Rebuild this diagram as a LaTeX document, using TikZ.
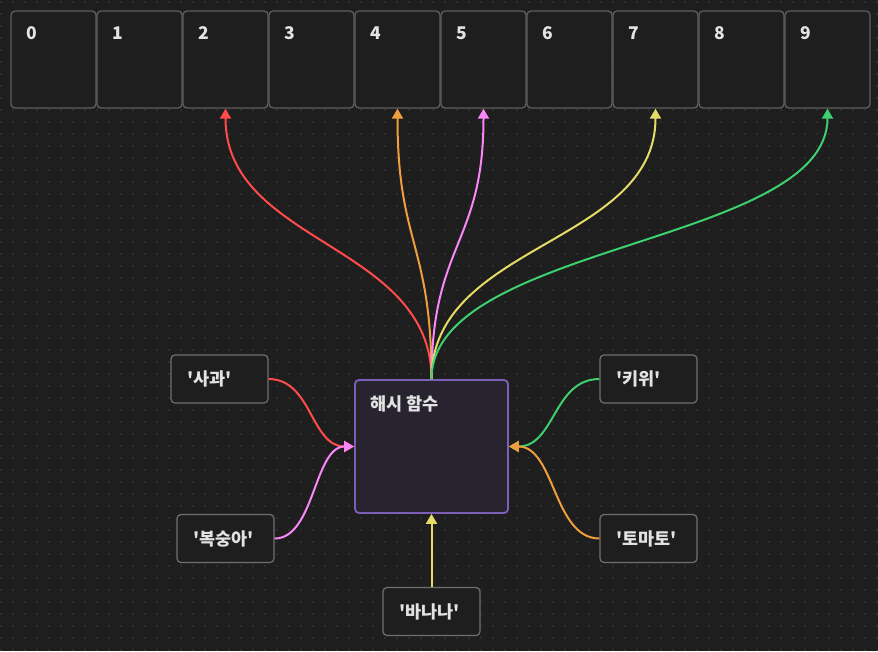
\documentclass[tikz,border=0pt]{standalone}
\usepackage{fontspec}
\setmainfont{Noto Sans CJK KR}[Ligatures=TeXOff]
\usetikzlibrary{arrows.meta}

\definecolor{bgcol}{HTML}{1E1E1E}
\definecolor{dotcol}{HTML}{2D2D2D}
\definecolor{slotline}{HTML}{5E5E5E}
\definecolor{keyline}{HTML}{707070}
\definecolor{hashfill}{HTML}{27232F}
\definecolor{hashline}{HTML}{7B5FB8}
\definecolor{txt}{HTML}{E3E3E3}
\definecolor{cred}{HTML}{FF4B4B}
\definecolor{corange}{HTML}{EE9E3C}
\definecolor{cpink}{HTML}{F987F7}
\definecolor{cyellow}{HTML}{E5DC68}
\definecolor{cgreen}{HTML}{3ECF6E}

\begin{document}
\begin{tikzpicture}[x=1pt, y=-1pt,
    slot/.style={draw=slotline, line width=1.3pt, rounded corners=4pt, fill=bgcol, minimum width=85pt, minimum height=97pt, inner sep=0pt},
    slotnum/.style={text=txt, font=\bfseries\fontsize{17.5}{20}\selectfont, inner sep=0pt, anchor=north west},
    key/.style={draw=keyline, line width=1.2pt, rounded corners=4pt, fill=bgcol, minimum width=97pt, minimum height=48pt, text width=65pt, inner xsep=16pt, align=left, text=txt, font=\bfseries\fontsize{17.5}{20}\selectfont},
    hashbox/.style={draw=hashline, line width=1.8pt, rounded corners=4pt, fill=hashfill, minimum width=153pt, minimum height=133pt, inner sep=0pt},
    link/.style={line width=2pt, -{Triangle[length=10pt, width=11pt]}},
    griddot/.style={dotcol, line width=1.5pt, dash pattern=on 1.5pt off 10.5pt}]
    % 배경
    \path[use as bounding box, fill=bgcol] (0,0) rectangle (878,651);
    \foreach \y in {2,14,...,650} \draw[griddot] (0,\y) -- (878,\y);

    % 버킷
    \foreach \i in {0,...,9} {
        \node[slot] (b\i) at ({53.5+86*\i},59.5) {};
        \node[slotnum] (n\i) at ([shift={(16,16)}]b\i.north west) {\i};
    }

    % 해시 함수
    \node[hashbox] (hash) at (431.5,446.5) {};
    \node[slotnum] (hashname) at ([shift={(16,16)}]hash.north west) {해시 함수};

    % 입력 키
    \node[key] (apple) at (219.5,379) {'사과'};
    \node[key] (peach) at (225.5,538.5) {'복숭아'};
    \node[key] (banana) at (431.5,611.5) {'바나나'};
    \node[key] (kiwi) at (648.5,379) {'키위'};
    \node[key] (tomato) at (648.5,538.5) {'토마토'};

    % 키 -> 해시 함수
    \draw[link, cred] (apple.east) .. controls +(43.5,0) and +(-43.5,0) .. (hash.west);
    \draw[link, cpink] (peach.east) .. controls +(40,0) and +(-40,0) .. (hash.west);
    \draw[link, cyellow] (banana.north) -- (hash.south);
    \draw[link, cgreen] (kiwi.west) .. controls +(-46,0) and +(46,0) .. (hash.east);
    \draw[link, corange] (tomato.west) .. controls +(-46,0) and +(46,0) .. (hash.east);

    % 해시 함수 -> 버킷
    \draw[link, cred] (hash.north) .. controls +(0,-136) and +(0,136) .. (b2.south);
    \draw[link, corange] (hash.north) .. controls +(0,-136) and +(0,136) .. (b4.south);
    \draw[link, cpink] (hash.north) .. controls +(0,-136) and +(0,136) .. (b5.south);
    \draw[link, cyellow] (hash.north) .. controls +(0,-136) and +(0,136) .. (b7.south);
    \draw[link, cgreen] (hash.north) .. controls +(0,-136) and +(0,136) .. (b9.south);
\end{tikzpicture}
\end{document}
